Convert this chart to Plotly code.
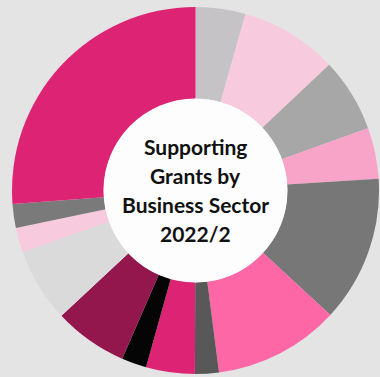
import plotly.graph_objects as go

# Share of supporting grants per business sector (percent), clockwise from 12 o'clock
sectors = [f"Sector {i}" for i in range(1, 15)]
shares = [4.4, 8.6, 6.5, 4.5, 12.9, 11.1, 2.1, 4.3, 2.2, 6.5, 6.5, 2.2, 2.1, 26.2]
colors = [
    "#c6c3c6", "#f8cadd", "#a7a7a7", "#f8a3c8", "#777777", "#fe67a5", "#585858",
    "#dd2474", "#050505", "#93174c", "#dadada", "#f8cadd", "#7a7a7a", "#dd2474",
]
center_lines = ["Supporting", "Grants by", "Business Sector", "2022/2"]

W, H = 380, 377
cx, cy, r = 195.5, 190.5, 183.5

fig = go.Figure(
    go.Pie(
        labels=sectors,
        values=shares,
        marker=dict(colors=colors, line=dict(width=0)),
        hole=0.5,
        sort=False,
        direction="clockwise",
        rotation=0,
        textinfo="none",
        hoverinfo="label+percent",
        showlegend=False,
        domain=dict(
            x=[(cx - r) / W, (cx + r) / W],
            y=[1 - (cy + r) / H, 1 - (cy - r) / H],
        ),
    )
)

# white disc in the hole
fig.add_shape(
    type="circle", xref="paper", yref="paper",
    x0=(cx - 92) / W, x1=(cx + 92) / W,
    y0=1 - (cy + 92) / H, y1=1 - (cy - 92) / H,
    fillcolor="#fdfdfd", line=dict(width=0), layer="above",
)

line_gap = 29
start = cy - 0.5 - line_gap * (len(center_lines) - 1) / 2
for i, txt in enumerate(center_lines):
    fig.add_annotation(
        x=cx / W, y=1 - (start + i * line_gap) / H,
        xref="paper", yref="paper",
        text=txt, showarrow=False,
        font=dict(family="Lato", size=21, color="#111111", weight="bold"),
        xanchor="center", yanchor="middle",
    )

fig.update_layout(
    width=W, height=H,
    margin=dict(l=0, r=0, t=0, b=0),
    paper_bgcolor="#e4e4e4",
    plot_bgcolor="#e4e4e4",
)

fig.write_html("out.html")
